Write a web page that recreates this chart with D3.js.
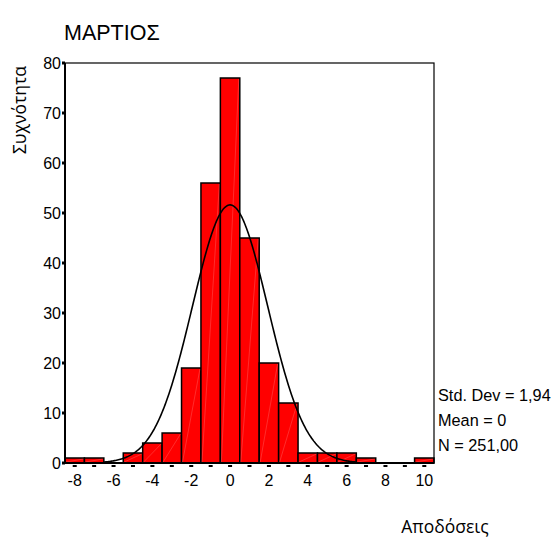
<!DOCTYPE html>
<html>
<head>
<meta charset="utf-8">
<script src="https://cdn.jsdelivr.net/npm/d3@7"></script>
<style>
  html, body { margin: 0; padding: 0; background: #fff; }
  svg { display: block; }
</style>
</head>
<body>
<svg id="chart" width="554" height="542"></svg>
<script>
// Histogram of returns for March, one-unit bins centred on integers
const binCenters = [-8, -7, -6, -5, -4, -3, -2, -1, 0, 1, 2, 3, 4, 5, 6, 7, 8, 9, 10];
const counts     = [ 1,  1,  0,  2,  4,  6, 19, 56, 77, 45, 20, 12, 2, 2, 2, 1, 0, 0, 1];
const xTickValues = [-8, -6, -4, -2, 0, 2, 4, 6, 8, 10];
const yTickValues = [0, 10, 20, 30, 40, 50, 60, 70, 80];
const statLabels = ["Std. Dev", "Mean", "N"];
const statValues = [1.94, 0, 251];
const statText   = ["1,94", "0", "251,00"];

const titleText = "ΜΑΡΤΙΟΣ";
const xLabel = "Αποδόσεις";
const yLabel = "Συχνότητα";

const binWidth = 1;
const [sd, mean, n] = statValues;

const svg = d3.select("#chart");
const plotLeft = 65, plotRight = 434, plotTop = 63, plotBottom = 463;

const x = d3.scaleLinear().domain([-8.5, 10.5]).range([plotLeft, plotRight]);
const y = d3.scaleLinear().domain([0, 80]).range([plotBottom, plotTop]);

const labelFont = "'Liberation Sans', Arial, sans-serif";
const greekFont = "'Open Sans', 'Noto Sans', sans-serif";

// Title
svg.append("text")
  .attr("x", 64).attr("y", 40)
  .attr("font-family", labelFont).attr("font-size", 21.5)
  .text(titleText);

// Bars
const barData = binCenters.map((c, i) => ({ c, v: counts[i] })).filter(d => d.v > 0);
const bars = svg.append("g");
bars.selectAll("rect")
  .data(barData)
  .join("rect")
  .attr("x", d => x(d.c - binWidth / 2))
  .attr("y", d => y(d.v))
  .attr("width", d => x(d.c + binWidth / 2) - x(d.c - binWidth / 2))
  .attr("height", d => y(0) - y(d.v))
  .attr("fill", "#ff0000")
  .attr("stroke", "#000")
  .attr("stroke-width", 1.5);

// faint diagonal sheen across each bar
bars.selectAll("line")
  .data(barData)
  .join("line")
  .attr("x1", d => x(d.c - binWidth / 2) + 1)
  .attr("y1", y(0) - 1)
  .attr("x2", d => x(d.c + binWidth / 2) - 1)
  .attr("y2", d => y(d.v) + 1)
  .attr("stroke", "#ffffff")
  .attr("stroke-opacity", 0.25)
  .attr("stroke-width", 0.7);

// Fitted normal curve
const pdf = v => n * binWidth / (sd * Math.sqrt(2 * Math.PI)) * Math.exp(-0.5 * ((v - mean) / sd) ** 2);
const curvePts = d3.range(-6.5, 6.5001, 0.05).map(v => [v, pdf(v)]);
svg.append("path")
  .datum(curvePts)
  .attr("fill", "none")
  .attr("stroke", "#000")
  .attr("stroke-width", 1.6)
  .attr("d", d3.line().x(d => x(d[0])).y(d => y(d[1])));

// Frame
svg.append("rect")
  .attr("x", plotLeft).attr("y", plotTop)
  .attr("width", plotRight - plotLeft).attr("height", plotBottom - plotTop)
  .attr("fill", "none").attr("stroke", "#000").attr("stroke-width", 1.2);
svg.append("line")
  .attr("x1", plotLeft).attr("x2", plotLeft).attr("y1", plotTop).attr("y2", plotBottom + 1)
  .attr("stroke", "#000").attr("stroke-width", 2);
svg.append("line")
  .attr("x1", plotLeft).attr("x2", plotRight).attr("y1", plotBottom).attr("y2", plotBottom)
  .attr("stroke", "#000").attr("stroke-width", 2);

// Y axis ticks and labels
const yAxis = svg.append("g");
yAxis.selectAll("rect")
  .data(yTickValues).join("rect")
  .attr("x", plotLeft - 3).attr("y", d => y(d) - 1.5)
  .attr("width", 3).attr("height", 3).attr("fill", "#000");
yAxis.selectAll("text")
  .data(yTickValues).join("text")
  .attr("x", plotLeft - 4).attr("y", d => y(d) + 5.5)
  .attr("text-anchor", "end")
  .attr("font-family", labelFont).attr("font-size", 16)
  .text(d => d);

// X axis tick dashes and labels
const xAxis = svg.append("g");
xAxis.selectAll("rect")
  .data(binCenters).join("rect")
  .attr("x", d => x(d) - 2).attr("y", plotBottom + 2)
  .attr("width", 4).attr("height", 2).attr("fill", "#000");
xAxis.selectAll("text")
  .data(xTickValues).join("text")
  .attr("x", d => x(d)).attr("y", 486)
  .attr("text-anchor", "middle")
  .attr("font-family", labelFont).attr("font-size", 16)
  .text(d => d);

// Axis titles
svg.append("text")
  .attr("transform", "translate(26,110) rotate(-90)")
  .attr("text-anchor", "middle")
  .attr("font-family", greekFont).attr("font-size", 17.5)
  .text(yLabel);
svg.append("text")
  .attr("x", 445).attr("y", 533)
  .attr("text-anchor", "middle")
  .attr("font-family", greekFont).attr("font-size", 17.5)
  .text(xLabel);

// Summary statistics
svg.append("g").selectAll("text")
  .data(statLabels).join("text")
  .attr("x", 438).attr("y", (d, i) => 401 + i * 25)
  .attr("font-family", labelFont).attr("font-size", 16.3)
  .text((d, i) => `${d} = ${statText[i]}`);
</script>
</body>
</html>
